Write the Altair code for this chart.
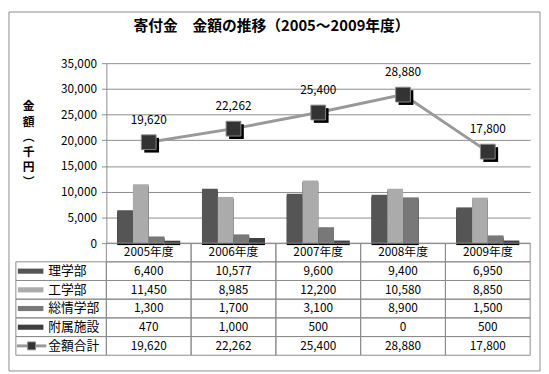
import altair as alt
import pandas as pd

years = ["2005年度", "2006年度", "2007年度", "2008年度", "2009年度"]
series = ["理学部", "工学部", "総情学部", "附属施設"]
rigaku = [6400, 10577, 9600, 9400, 6950]
kougaku = [11450, 8985, 12200, 10580, 8850]
soujou = [1300, 1700, 3100, 8900, 1500]
fuzoku = [470, 1000, 500, 0, 500]
total_name = "金額合計"
total = [19620, 22262, 25400, 28880, 17800]
y_ticks = [0, 5000, 10000, 15000, 20000, 25000, 30000, 35000]
colors = ["#555555", "#ababab", "#787878", "#3f3f3f"]
title_text = "寄付金　金額の推移（2005～2009年度）"
y_title_chars = ["金", "額", "︵", "千", "円", "︶"]

FONT = "Noto Sans CJK JP"
GRID = "#8c8c8c"

values = [rigaku, kougaku, soujou, fuzoku]
bars_df = pd.DataFrame(
    [{"year": y, "series": s, "value": v[i]} for s, v in zip(series, values) for i, y in enumerate(years)]
)
total_df = pd.DataFrame({"year": years, "value": total,
                         "label": [f"{t:,}" for t in total]})

rows_all = ["header"] + series + [total_name]
table_rows = []
for s, v in zip(series + [total_name], values + [total]):
    for i, y in enumerate(years):
        table_rows.append({"year": y, "row": s, "label": f"{v[i]:,}"})
for y in years:
    table_rows.append({"year": y, "row": "header", "label": y})
table_df = pd.DataFrame(table_rows)
rowlab_df = pd.DataFrame({"row": series + [total_name]})
swatch_df = pd.DataFrame({"row": series, "series": series})
one = pd.DataFrame({"a": [0]})

x_enc = alt.X("year:N", sort=years,
              scale=alt.Scale(domain=years, paddingInner=0, paddingOuter=0), axis=None)
xo_enc = alt.XOffset("series:N", sort=series,
                     scale=alt.Scale(domain=series, paddingInner=0, paddingOuter=0.69))
color_enc = alt.Color("series:N", scale=alt.Scale(domain=series, range=colors), legend=None)
y_axis = alt.Axis(values=y_ticks, format=",.0f", grid=True, gridColor=GRID, domainColor=GRID,
                  tickColor=GRID, tickSize=5, labelFontSize=12, labelPadding=5,
                  labelColor="black", labelOverlap=False, title=None)
y_enc = alt.Y("value:Q", scale=alt.Scale(domain=[0, 35000], nice=False), axis=y_axis)

border = alt.Chart(one).mark_rect(fillOpacity=0, stroke="#8c8c8c", strokeWidth=1).encode(
    x=alt.value(-99), x2=alt.value(441), y=alt.value(-52), y2=alt.value(313))

shadow = alt.Chart(bars_df).mark_bar(color="black", xOffset=2, x2Offset=2, yOffset=2).encode(
    x=x_enc, xOffset=xo_enc, y=y_enc)
bars = alt.Chart(bars_df).mark_bar().encode(
    x=x_enc, xOffset=xo_enc, y=y_enc, color=color_enc)

line = alt.Chart(total_df).mark_line(color="#999999", strokeWidth=3).encode(
    x=x_enc, y=y_enc)
pt_shadow = alt.Chart(total_df).mark_point(shape="square", filled=True, size=225, color="black",
                                           opacity=1, xOffset=3, yOffset=3).encode(
    x=x_enc, y=y_enc)
pts = alt.Chart(total_df).mark_point(shape="square", filled=True, size=225, fill="#333333",
                                     stroke="#888888", strokeWidth=1, opacity=1).encode(
    x=x_enc, y=y_enc)
pt_labels = alt.Chart(total_df).mark_text(dy=-23, fontSize=12, color="black").encode(
    x=x_enc, y=y_enc, text="label:N")

title = alt.Chart(one).mark_text(fontSize=15, fontWeight="bold", color="black").encode(
    x=alt.value(168), y=alt.value(-38), text=alt.value(title_text))
ytitle_layers = [
    alt.Chart(one).mark_text(fontSize=12, fontWeight="bold", color="black").encode(
        x=alt.value(-79), y=alt.value(44 + 15.4 * i), text=alt.value(ch))
    for i, ch in enumerate(y_title_chars)
]

main = alt.layer(border, shadow, bars, line, pt_shadow, pts, pt_labels, title, *ytitle_layers)

ty = alt.Y("row:N", sort=rows_all,
           scale=alt.Scale(domain=rows_all, range=[183, 297], paddingInner=0, paddingOuter=0),
           axis=None)
cells = alt.Chart(table_df).mark_rect(fillOpacity=0, stroke=GRID, strokeWidth=1).encode(
    x=x_enc, y=ty)
lab_cells = alt.Chart(rowlab_df).mark_rect(fillOpacity=0, stroke=GRID, strokeWidth=1).encode(
    x=alt.value(-92), x2=alt.value(0), y=ty)
cell_text = alt.Chart(table_df).mark_text(fontSize=12, color="black").encode(
    x=x_enc, y=ty, text="label:N")
row_text = alt.Chart(rowlab_df).mark_text(fontSize=13, color="black", align="left").encode(
    x=alt.value(-59), y=ty, text="row:N")
swatch = alt.Chart(swatch_df).mark_point(
    shape="M-1,-0.2L1,-0.2L1,0.2L-1,0.2Z", filled=True, size=676, opacity=1).encode(
    x=alt.value(-77), y=ty, color=color_enc)
tot_df = pd.DataFrame({"row": [total_name]})
tot_line = alt.Chart(tot_df).mark_rule(color="#999999", strokeWidth=3).encode(
    x=alt.value(-91), x2=alt.value(-61), y=ty)
tot_pt = alt.Chart(tot_df).mark_point(shape="square", filled=True, size=64, fill="#333333",
                                      stroke="#888888", strokeWidth=1, opacity=1).encode(
    x=alt.value(-76), y=ty)

table = alt.layer(cells, lab_cells, cell_text, row_text, swatch, tot_line, tot_pt)

chart = alt.layer(main, table).resolve_scale(y="independent").properties(
    width=431, height=183, padding=0, background="white"
).configure(font=FONT).configure_view(stroke=None)

chart.save("out.html", embed_options={"renderer": "svg", "actions": False})
